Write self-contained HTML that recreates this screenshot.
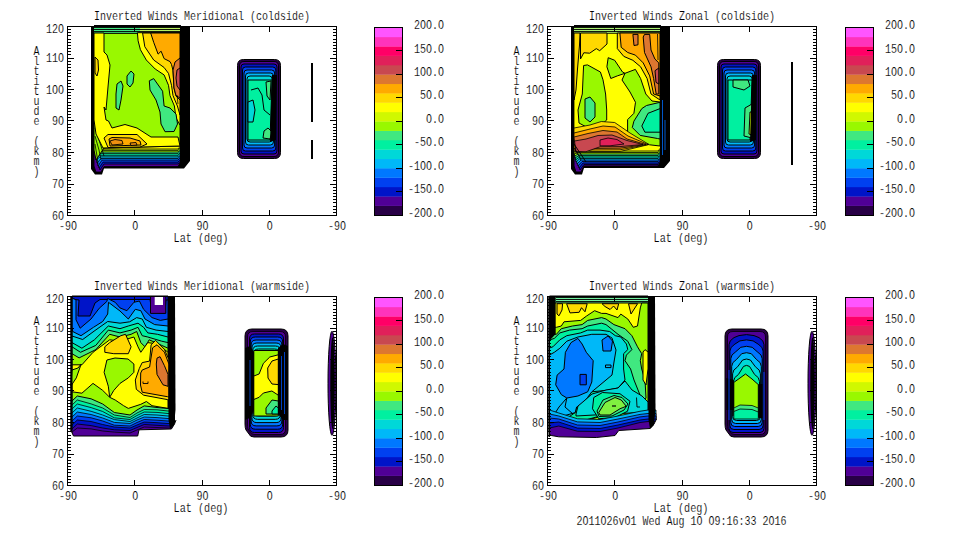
<!DOCTYPE html><html><head><meta charset="utf-8"><style>html,body{margin:0;padding:0;background:#fff;width:960px;height:540px;overflow:hidden}svg{display:block}text{font-family:"Liberation Mono",monospace;fill:#000;stroke:#fff;stroke-width:0.15px}</style></head><body>
<svg width="960" height="540" viewBox="0 0 960 540">
<rect width="960" height="540" fill="#fff"/>
<path d="M91,26 190,26 190,161 184,168.5 104,168.5 102,174.5 95,174.5 91,169Z" fill="#000" stroke="none"/>
<path d="M94,26 181,26 181,161 178,166.5 104,166.5 101,172 96,172 94,166Z" fill="#500096" stroke="#000" stroke-width="0.8"/>
<path d="M94,26 180.5,26 180.5,161 178,164 104,164 100,170 94,150Z" fill="#0014C8" stroke="#000" stroke-width="0.8"/>
<path d="M94,26 180.5,26 180.5,159.1 178,162.1 103,162.1 99,168 94,148Z" fill="#0040F0" stroke="#000" stroke-width="0.8"/>
<path d="M94,26 180.5,26 180.5,157.1 178,160.1 102,160.1 98,166 94,146Z" fill="#0078FF" stroke="#000" stroke-width="0.8"/>
<path d="M94,26 180.5,26 180.5,155.5 178,158.5 101,158.5 97,163 94,143Z" fill="#00B8F8" stroke="#000" stroke-width="0.8"/>
<path d="M94,26 180.5,26 180.5,153.9 178,156.9 100,156.9 96,160 94,140Z" fill="#00D8D8" stroke="#000" stroke-width="0.8"/>
<path d="M94,26 180.5,26 180.5,152.3 178,155.3 99.5,155.3 95.5,157 94,137Z" fill="#00F0A0" stroke="#000" stroke-width="0.8"/>
<path d="M94,26 180.5,26 180.5,150.6 178,153.6 99,153.6 95,154 94,134Z" fill="#40E880" stroke="#000" stroke-width="0.8"/>
<path d="M94,26 180.5,26 180.5,149 178,152 98.5,152 94.5,151 94,131Z" fill="#99F800" stroke="#000" stroke-width="0.8"/>
<path d="M94,26 180.5,26 180.5,147.4 178,150.4 98,150.4 94,149 94,129Z" fill="#D0F800" stroke="#000" stroke-width="0.8"/>
<path d="M94,26 180.5,26 180.5,146 178,149 98,149 94,148 94,128Z" fill="#FFFF00" stroke="#000" stroke-width="0.8"/>
<path d="M94,33 180,33 180,146 104,148 96,160 94,150Z" fill="#99F800" stroke="#000" stroke-width="1"/>
<path d="M95,128L101,146L104,156M95,136L99,150L101,160M95,144L97,156L98,164" stroke="#000" stroke-width="0.8" fill="none"/>
<path d="M94,26.5 140,26.5 140,33 94,33Z" fill="#40E880" stroke="none"/>
<path d="M140,26.5 180,26.5 180,33 140,33Z" fill="#B8F060" stroke="none"/>
<path d="M94,27.5H180M94,29.5H180M94,31.5H180M94,33.3H180" stroke="#000" stroke-width="0.9" fill="none"/>
<path d="M94,33 104,33 104,52 107,55 110,65 108,87 106,110 104,107 106,120 108.5,121 112,128 125,124.5 137,128 151,137 178,137 180,146 103,148 96,134 94,120Z" fill="#FFFF00" stroke="#000" stroke-width="1"/>
<path d="M95,57 98,60 98.5,70 97,76 95,73Z" fill="#FFD800" stroke="#000" stroke-width="1"/>
<path d="M104,138 108,134.5 137,134.5 147,144 140,147 108,147.5Z" fill="#FFD800" stroke="#000" stroke-width="1"/>
<path d="M109,139 112,137.5 130,138 140,141 141,145 110,146Z" fill="#FFAA00" stroke="#000" stroke-width="1"/>
<path d="M110,141 115,139.5 122,140.5 123,144 112,145Z" fill="#F09010" stroke="#000" stroke-width="0.9"/>
<path d="M130,143 136,142.5 137,145 131,145.5Z" fill="#F09010" stroke="#000" stroke-width="0.9"/>
<path d="M137.4,32.7 180,32.7 180,125 176,118 174.4,106 170,95.6 168.5,85.3 164.1,74.9 155.2,69 146.3,60 140.4,49.7 138.1,40.8Z" fill="#FFFF00" stroke="#000" stroke-width="1"/>
<path d="M142.6,33 180,33 180,115 177.4,106 173,95.6 171.5,85.3 168.5,73.4 164.1,67.5 153.7,60 144.8,46.7Z" fill="#FFD800" stroke="#000" stroke-width="1"/>
<path d="M150.7,33 180,33 180,100 176,96 174,88 173,70.4 171.5,64.5 170,61.6 164.1,58.6 161.1,51.2 158.1,54.1 153.7,42.3Z" fill="#FFAA00" stroke="#000" stroke-width="1"/>
<path d="M180,58 180,98 176,95.6 174,88 173,70 175,62Z" fill="#DD7730" stroke="#000" stroke-width="1"/>
<path d="M180,68 180,90 177,86 176,78 177,70Z" fill="#C84850" stroke="#000" stroke-width="1"/>
<path d="M177,95 178,104" fill="none" stroke="#000" stroke-width="0.8"/>
<path d="M127,76 131,71 134,74 133,83 130,87 127,84Z" fill="#40E880" stroke="#000" stroke-width="1"/>
<path d="M117,84 121,81 123,86 121,100 119,110 116,108 116,94Z" fill="#40E880" stroke="#000" stroke-width="1"/>
<path d="M149.3,80.8 153.7,78.6 162.6,91.2 164.1,106 170,108 176,114 177.5,124 174,131.5 165,131.7 161,124 160,112 156,100 150,90Z" fill="#40E880" stroke="#000" stroke-width="1"/>
<path d="M180,26 190,26 190,160 183,168 180,165Z" fill="#000" stroke="none"/>
<path d="M243.5,59.5 H274.5 Q280.5,59.5 280.5,65.5 V152.5 Q280.5,158.5 274.5,158.5 H243.5 Q237.5,158.5 237.5,152.5 V65.5 Q237.5,59.5 243.5,59.5Z" fill="#280046" stroke="#000" stroke-width="1"/>
<path d="M244,61.5 H274 Q278.5,61.5 278.5,66 V152 Q278.5,156.5 274,156.5 H244 Q239.5,156.5 239.5,152 V66 Q239.5,61.5 244,61.5Z" fill="#500096" stroke="#000" stroke-width="1"/>
<path d="M244.0,64 H274.0 Q277.0,64 277.0,67 V151 Q277.0,154 274.0,154 H244.0 Q241.0,154 241.0,151 V67 Q241.0,64 244.0,64Z" fill="#0014C8" stroke="#000" stroke-width="1"/>
<path d="M245.5,67 H272.8 Q275.8,67 275.8,70 V148 Q275.8,151 272.8,151 H245.5 Q242.5,151 242.5,148 V70 Q242.5,67 245.5,67Z" fill="#0040F0" stroke="#000" stroke-width="1"/>
<path d="M247.0,70 H271.6 Q274.6,70 274.6,73 V145 Q274.6,148 271.6,148 H247.0 Q244.0,148 244.0,145 V73 Q244.0,70 247.0,70Z" fill="#0078FF" stroke="#000" stroke-width="1"/>
<path d="M248.5,73 H270.4 Q273.4,73 273.4,76 V142 Q273.4,145 270.4,145 H248.5 Q245.5,145 245.5,142 V76 Q245.5,73 248.5,73Z" fill="#00B8F8" stroke="#000" stroke-width="1"/>
<path d="M250.0,76 H269.2 Q272.2,76 272.2,79 V139 Q272.2,142 269.2,142 H250.0 Q247.0,142 247.0,139 V79 Q247.0,76 250.0,76Z" fill="#00D8D8" stroke="#000" stroke-width="1"/>
<path d="M248,80 272,80 270,140 248,140Z" fill="#00F0A0" stroke="#000" stroke-width="1"/>
<path d="M266,82 271,81 270,100 267,96Z" fill="#40E880" stroke="#000" stroke-width="1"/>
<path d="M264,131 268,128 272,132 270,139 263,138Z" fill="#40E880" stroke="#000" stroke-width="1"/>
<path d="M248,102 253,100 255,110 253,122 248,122Z" fill="#00D8D8" stroke="#000" stroke-width="1"/>
<path d="M251,90 258,88 262,95 264,110 270,115" fill="none" stroke="#000" stroke-width="1"/>
<path d="M272,75 277,75 276,140 270,142Z" fill="#000" stroke="none"/>
<path d="M312,63V122M312,140V159" stroke="#000" stroke-width="2" fill="none"/><path d="M571,26 670,26 670,161 664,168 584,168 582,174.5 575,174.5 571,169Z" fill="#000" stroke="none"/>
<path d="M574,26 661,26 661,161 658,166 584,166 581,172 576,172 574,166Z" fill="#500096" stroke="#000" stroke-width="1"/>
<path d="M574,26 660.5,26 660.5,161.5 658,164.5 584,164.5 580,170 574,150Z" fill="#0014C8" stroke="#000" stroke-width="0.8"/>
<path d="M574,26 660.5,26 660.5,160 658,163 583,163 579,168 574,148Z" fill="#0040F0" stroke="#000" stroke-width="0.8"/>
<path d="M574,26 660.5,26 660.5,158.5 658,161.5 582,161.5 578,166 574,146Z" fill="#0078FF" stroke="#000" stroke-width="0.8"/>
<path d="M574,26 660.5,26 660.5,157 658,160 581,160 577,164 574,144Z" fill="#00B8F8" stroke="#000" stroke-width="0.8"/>
<path d="M574,26 660.5,26 660.5,155.5 658,158.5 580,158.5 576,162 574,142Z" fill="#00D8D8" stroke="#000" stroke-width="0.8"/>
<path d="M574,26 660.5,26 660.5,154 658,157 579.5,157 575.5,160 574,140Z" fill="#00F0A0" stroke="#000" stroke-width="0.8"/>
<path d="M574,26 660.5,26 660.5,152.5 658,155.5 579,155.5 575,158 574,138Z" fill="#40E880" stroke="#000" stroke-width="0.8"/>
<path d="M574,26 660.5,26 660.5,151 658,154 578.5,154 574.5,156 574,136Z" fill="#99F800" stroke="#000" stroke-width="0.8"/>
<path d="M574,26 660.5,26 660.5,149.5 658,152.5 578,152.5 574,154 574,134Z" fill="#D0F800" stroke="#000" stroke-width="0.8"/>
<path d="M574,26 660.5,26 660.5,148 658,151 578,151 574,152 574,132Z" fill="#FFFF00" stroke="#000" stroke-width="0.8"/>
<path d="M574,26.5 660,26.5 660,33 574,33Z" fill="#A8F070" stroke="none"/>
<path d="M574,27.5H660M574,29.5H660M574,31.5H660M574,33.3H660" stroke="#000" stroke-width="0.9" fill="none"/>
<path d="M574,33 580,33 579.5,45 577.5,69 576,90 574,100Z" fill="#FFD800" stroke="#000" stroke-width="1"/>
<path d="M580.5,33 607,33 607,44 599.7,50.7 596.3,48.6 589.7,53.2 583.8,52.75 580.5,59Z" fill="#FFD800" stroke="#000" stroke-width="1"/>
<path d="M617.3,33 660,33 660,100 651,94 647.1,78.5 640.6,66.8 632.9,60.3 623.8,56.4 617.3,48.6Z" fill="#FFD800" stroke="#000" stroke-width="1"/>
<path d="M619.9,33 660,33 660,96 653.6,94 649.7,75.9 643.2,62.9 635.4,55.1 627.7,52.5 621.2,47.3Z" fill="#FFAA00" stroke="#000" stroke-width="1"/>
<path d="M644.5,34.4 649.7,34.4 651,50 654.9,59 658.8,62.9 658.8,94 656.2,94 653.6,78.5 651,66.8 644.5,52.5 643.2,37Z" fill="#DD7730" stroke="#000" stroke-width="1"/>
<path d="M632.9,34.4 638,34.4 638,44.8 634,45.5Z" fill="#DD7730" stroke="#000" stroke-width="1"/>
<path d="M655,70.7 658.8,68 658.8,84 656,82.4Z" fill="#C84850" stroke="#000" stroke-width="1"/>
<path d="M657.5,34 658,60" fill="none" stroke="#000" stroke-width="0.8"/>
<path d="M583.6,65.5 587.5,64.9 600.4,72 603,79.8 605.6,94 606.7,110 606.7,120 600,126 590,129 579,123 578,110 582.3,94Z" fill="#99F800" stroke="#000" stroke-width="1"/>
<path d="M585,99 590,97 595,103 595,117 590,122 585,118Z" fill="#40E880" stroke="#000" stroke-width="1"/>
<path d="M608.2,57.7 614.7,60.3 622.5,72 625,73.3 617.3,75.9 610.8,78.5 606.9,66.8Z" fill="#99F800" stroke="#000" stroke-width="1"/>
<path d="M625,73.3 635.4,69.4 640.6,78.5 645.8,94 652,101 660,102 660,146 649.6,144.8 637,140.1 627.6,132.2 627.6,119.6 633.9,113.3 635.5,102.3 630,92 622,80Z" fill="#99F800" stroke="#000" stroke-width="1"/>
<path d="M660,102.3 646.5,105.5 641.8,108.6 633.9,121.2 632.3,127.5 640.2,135.4 657.5,138.5 660,139Z" fill="#40E880" stroke="#000" stroke-width="1"/>
<path d="M660,108.6 648,113.3 641.8,126 644.9,132.2 660,132.2Z" fill="#00F0A0" stroke="#000" stroke-width="1"/>
<path d="M574,128 590,125 601.3,121.5 614.7,122.5 630,133 649,144.5 649,144.5 620,151.5 590,151.5 574,147Z" fill="#FFD800" stroke="#000" stroke-width="0.8"/>
<path d="M574,133 590,129 603,126 615,127 628,136 648,144.5 648,144.5 620,149.8 590,150 574,151Z" fill="#FFAA00" stroke="#000" stroke-width="0.8"/>
<path d="M574,137 588,133.5 603,130.5 617,132 627,139 646,144.5 646,144.5 620,148.2 590,148.5 576,153Z" fill="#DD7730" stroke="#000" stroke-width="0.8"/>
<path d="M574.5,141 586,139 598,135.5 612,135 627,140.5 643,144.5 643,144.5 620,146.6 600,146.8 586,151.7 576,151.5Z" fill="#C84850" stroke="#000" stroke-width="0.8"/>
<path d="M600,140 608,138 617,139.5 624,144 624,144 610,145.8 600,145.8Z" fill="#E0205A" stroke="#000" stroke-width="0.8"/>
<path d="M574,144 578,150 582,156 586,162" fill="none" stroke="#000" stroke-width="1"/>
<path d="M574,148 578,154 581,160" fill="none" stroke="#000" stroke-width="1"/>
<path d="M660,26 670,26 670,160 663,168 660,165Z" fill="#000" stroke="none"/>
<path d="M662.5,100V155M665,120V150" stroke="#0060E0" stroke-width="0.9" fill="none"/>
<path d="M723.5,59.5 H754.5 Q760.5,59.5 760.5,65.5 V152.5 Q760.5,158.5 754.5,158.5 H723.5 Q717.5,158.5 717.5,152.5 V65.5 Q717.5,59.5 723.5,59.5Z" fill="#280046" stroke="#000" stroke-width="1"/>
<path d="M724,61.5 H754 Q758.5,61.5 758.5,66 V152 Q758.5,156.5 754,156.5 H724 Q719.5,156.5 719.5,152 V66 Q719.5,61.5 724,61.5Z" fill="#500096" stroke="#000" stroke-width="1"/>
<path d="M724.0,64 H754.0 Q757.0,64 757.0,67 V151 Q757.0,154 754.0,154 H724.0 Q721.0,154 721.0,151 V67 Q721.0,64 724.0,64Z" fill="#0014C8" stroke="#000" stroke-width="1"/>
<path d="M725.5,67 H752.8 Q755.8,67 755.8,70 V148 Q755.8,151 752.8,151 H725.5 Q722.5,151 722.5,148 V70 Q722.5,67 725.5,67Z" fill="#0040F0" stroke="#000" stroke-width="1"/>
<path d="M727.0,70 H751.6 Q754.6,70 754.6,73 V145 Q754.6,148 751.6,148 H727.0 Q724.0,148 724.0,145 V73 Q724.0,70 727.0,70Z" fill="#0078FF" stroke="#000" stroke-width="1"/>
<path d="M728.5,73 H750.4 Q753.4,73 753.4,76 V142 Q753.4,145 750.4,145 H728.5 Q725.5,145 725.5,142 V76 Q725.5,73 728.5,73Z" fill="#00B8F8" stroke="#000" stroke-width="1"/>
<path d="M730.0,76 H749.2 Q752.2,76 752.2,79 V139 Q752.2,142 749.2,142 H730.0 Q727.0,142 727.0,139 V79 Q727.0,76 730.0,76Z" fill="#00D8D8" stroke="#000" stroke-width="1"/>
<path d="M728,80 752,80 750,140 728,140Z" fill="#00F0A0" stroke="#000" stroke-width="1"/>
<path d="M733,80 748,80 750,86 744,90 733,87Z" fill="#40E880" stroke="#000" stroke-width="1"/>
<path d="M745,108 752,104 752,138 744,136Z" fill="#40E880" stroke="#000" stroke-width="1"/>
<path d="M750,112 752,112 752,135 749,134Z" fill="#D0F800" stroke="#000" stroke-width="1"/>
<path d="M752,75 757,75 756,140 750,142Z" fill="#000" stroke="none"/>
<path d="M792,62V165" stroke="#000" stroke-width="2" fill="none"/><path d="M70.5,296 175,296 175,428 171,432 138,432 135,437 72,437 70.5,432Z" fill="#000" stroke="none"/>
<path d="M72,296 168,296 170,420 168,429 136,429.5 133,435.5 74,435.5 72,430Z" fill="#500096" stroke="#000" stroke-width="1"/>
<path d="M72,296.5 168,296.5 168,420 72,420Z" fill="#0014C8" stroke="#000" stroke-width="1"/>
<path d="M72,299 79,300 78,316 90,316 95,303 100,299.5 150,299.5 152,312 165,313.5 166,300 168,300 168,420 72,420Z" fill="#0040F0" stroke="#000" stroke-width="1"/>
<path d="M72,298 76,299.8 76,319.8 80.2,328.2 91,319 99.3,308.2 106.8,301.5 107.7,298.5 115.2,302.3 120,307.9 126.9,310.7 133.9,302.3 139.4,301 143.6,309.3 152,317.6 160.3,320.4 168,319 168,420 72,420Z" fill="#0078FF" stroke="#000" stroke-width="1"/>
<path d="M72,328 72.7,331.5 81,335.7 93.5,327.3 102.7,321.5 107.7,314 108.5,302.3 120,311 128.3,319 135.3,309.3 140.8,310.7 145,319 154.7,324.6 168,326 168,420 72,420Z" fill="#00B8F8" stroke="#000" stroke-width="1"/>
<path d="M72,336 82.7,339.5 95,330.5 107.7,321.5 120,323.2 129.7,321.8 136.7,317.6 142.2,319 146.4,327.3 156.1,330.1 168,331.5 168,420 72,420Z" fill="#00D8D8" stroke="#000" stroke-width="1"/>
<path d="M72,342.6 81.9,348.2 94.4,339.8 108.3,326 120,328.7 128.3,326 138,323.2 143.6,327.3 147.8,332.9 157.5,334.3 168,337 168,420 72,420Z" fill="#00F0A0" stroke="#000" stroke-width="1"/>
<path d="M72,346.8 80.5,352.3 95.8,345.4 108.3,330.1 120,332.9 131.1,330.1 138,327.3 142.2,335.7 147.8,337 161.7,341.2 168,342.6 168,420 72,420Z" fill="#40E880" stroke="#000" stroke-width="1"/>
<path d="M72,353.7 79.1,357.9 95.8,349.6 109.7,334.3 120,337 131.1,334.3 136.7,331.5 140.8,342.6 145,346.8 149.2,339.8 161.7,345.4 168,348.2 168,420 72,420Z" fill="#99F800" stroke="#000" stroke-width="1"/>
<path d="M72,364.8 81.9,364.8 93,352.3 109.7,339.8 120,341.2 133.9,337 138,346.8 140.8,352.3 147.8,342.6 157.5,344 168,352.3 168,420 72,420Z" fill="#FFFF00" stroke="#000" stroke-width="1"/>
<path d="M72,370 78,368 81.2,364 76.3,377.9 70.8,386.2Z" fill="#99F800" stroke="#000" stroke-width="1"/>
<path d="M104.8,346.8 109.7,342.6 120.8,335.7 125.5,334.3 131.1,346.8 128.3,353.7 113.8,353.7 104.8,352.3Z" fill="#FFD800" stroke="#000" stroke-width="1"/>
<path d="M106.9,360 115,358 128,359 133.9,364 133.9,372.3 128.3,377.9 120,383.4 113.8,390.4 109.7,397.3 108.3,386.2 104.1,372.3Z" fill="#99F800" stroke="#000" stroke-width="1"/>
<path d="M139.3,368.5 142.2,362.6 149.6,361.1 151.1,344.8 155.6,340.4 164.4,349.3 168.9,359.6 168.9,400 167.4,399.6 143.7,395.2 136.3,389.3 135.3,380Z" fill="#FFD800" stroke="#000" stroke-width="1"/>
<path d="M140.7,373 142.2,370 149.6,367 152.6,347.8 157,344.8 164.4,352.2 168.9,364 168.9,397 167.4,396.7 142.2,392.2 140.5,385Z" fill="#FFAA00" stroke="#000" stroke-width="1"/>
<path d="M157,358.1 160,356.7 164.4,365.6 168,374.4 168,386.3 163,384.8 157,374.4 156.3,364Z" fill="#DD7730" stroke="#000" stroke-width="1"/>
<path d="M143,381.5 143,383.5 148,383.5 148,381.5" fill="none" stroke="#000" stroke-width="0.9"/>
<path d="M72,391.8 81.9,393.2 93,383.4 102.7,390.4 109.7,397.3 115.2,400 123.6,405.7 128.3,408.4 140.8,404.3 146.4,401.5 152,405.7 168,408.4 173,408.4 173,445 72,445Z" fill="#99F800" stroke="#000" stroke-width="1"/>
<path d="M72,401 77.3,396 91.1,398.8 102.7,404 114.3,412.5 130,415 137,410 144.2,405.9 157,407.5 168,408.5 173,408.5 173,445 72,445Z" fill="#40E880" stroke="#000" stroke-width="1"/>
<path d="M72,405 77.3,400 91.1,403.9 102.7,408 114.3,415 130,417.5 137,413 144.2,409.5 157,409.8 168,411 173,411 173,445 72,445Z" fill="#00F0A0" stroke="#000" stroke-width="0.8"/>
<path d="M72,409 77.3,404 91.1,407.6 102.7,411.5 114.3,417.8 130,419.5 137,415.5 144.2,412 157,412.4 168,413.5 173,413.5 173,445 72,445Z" fill="#00D8D8" stroke="#000" stroke-width="0.8"/>
<path d="M72,413 77.3,408 91.1,411.3 102.7,415 114.3,419.6 130,421.5 137,418 144.2,414.5 157,415 168,416 173,416 173,445 72,445Z" fill="#00B8F8" stroke="#000" stroke-width="0.8"/>
<path d="M72,417 77.3,412 91.1,414.5 102.7,418 114.3,422.4 130,423.5 137,420 144.2,417 157,417.6 168,418.5 173,418.5 173,445 72,445Z" fill="#0078FF" stroke="#000" stroke-width="0.8"/>
<path d="M72,421 77.3,416 91.1,417.8 102.7,421 114.3,425.2 130,426 137,422.5 144.2,419.5 157,420.2 168,421 173,421 173,445 72,445Z" fill="#0040F0" stroke="#000" stroke-width="0.8"/>
<path d="M72,425 77.3,420 91.1,421.5 102.7,424.5 114.3,427 130,428 137,425 144.2,422 157,422.7 168,423.5 173,423.5 173,445 72,445Z" fill="#0014C8" stroke="#000" stroke-width="0.8"/>
<path d="M72,429 77.3,424 91.1,425.6 102.7,428 114.3,429.8 130,430.5 137,427.5 144.2,424.5 157,425.3 168,426 173,426 173,445 72,445Z" fill="#3A00A8" stroke="#000" stroke-width="0.8"/>
<path d="M72,432 77.3,428 91.1,428.9 102.7,431 114.3,432.1 130,433 137,430 144.2,427 157,427.5 168,428 173,428 173,445 72,445Z" fill="#500096" stroke="#000" stroke-width="0.8"/>
<path d="M69,428 70.5,430 71.7,432 73.5,436 137.7,436 139,429.8 171.4,429 174.5,424 176,420 180,420 180,446 68,446Z" fill="#fff" stroke="none"/>
<path d="M69,428 70.5,430 71.7,432 73.5,436 137.7,436 139,429.8 171.4,429 174.5,424 176,420" fill="none" stroke="#000" stroke-width="1"/>
<path d="M150.5,296.5 165.8,296.5 165.8,313.4 150.5,313.4Z" fill="#500096" stroke="#000" stroke-width="1"/>
<path d="M154.7,296.5 163,296.5 163,305 154.7,305Z" fill="#fff" stroke="none"/>
<path d="M168.5,296 175,296 175.5,410 174,425 170,429 168.5,420Z" fill="#000" stroke="none"/>
<path d="M70.5,296 72.5,296 72.5,430 70.5,428Z" fill="#000" stroke="none"/>
<path d="M252,329 H281 Q288,329 288,336 V430 Q288,437 281,437 H254 Q250,437 249,434 L246,430 Q245,428 245,424 V336 Q245,329 252,329Z" fill="#280046" stroke="#000" stroke-width="1"/>
<path d="M253,331.5 H280 Q285.5,331.5 285.5,337 V429 Q285.5,434.5 280,434.5 H255 Q251.5,434.5 250.5,432 L248,429 Q247.5,427 247.5,423 V337 Q247.5,331.5 253,331.5Z" fill="#500096" stroke="#000" stroke-width="0.8"/>
<path d="M254.5,334 H278.5 Q283.5,334 283.5,339 V427.5 Q283.5,432.5 278.5,432.5 H254.5 Q249.5,432.5 249.5,427.5 V339 Q249.5,334 254.5,334Z" fill="#0014C8" stroke="#000" stroke-width="1"/>
<path d="M255.3,337 H277.7 Q282.7,337 282.7,342 V424.2 Q282.7,429.2 277.7,429.2 H255.3 Q250.3,429.2 250.3,424.2 V342 Q250.3,337 255.3,337Z" fill="#0040F0" stroke="#000" stroke-width="1"/>
<path d="M256.1,340 H276.9 Q281.9,340 281.9,345 V420.9 Q281.9,425.9 276.9,425.9 H256.1 Q251.1,425.9 251.1,420.9 V345 Q251.1,340 256.1,340Z" fill="#0078FF" stroke="#000" stroke-width="1"/>
<path d="M256.9,343 H276.1 Q281.1,343 281.1,348 V417.6 Q281.1,422.6 276.1,422.6 H256.9 Q251.9,422.6 251.9,417.6 V348 Q251.9,343 256.9,343Z" fill="#00B8F8" stroke="#000" stroke-width="1"/>
<path d="M257.7,346 H275.3 Q280.3,346 280.3,351 V414.3 Q280.3,419.3 275.3,419.3 H257.7 Q252.7,419.3 252.7,414.3 V351 Q252.7,346 257.7,346Z" fill="#00D8D8" stroke="#000" stroke-width="1"/>
<path d="M258.5,349 H274.5 Q279.5,349 279.5,354 V411.0 Q279.5,416.0 274.5,416.0 H258.5 Q253.5,416.0 253.5,411.0 V354 Q253.5,349 258.5,349Z" fill="#00F0A0" stroke="#000" stroke-width="1"/>
<path d="M253.8,350.5 278.3,350.5 278.3,416 253.8,416Z" fill="#99F800" stroke="#000" stroke-width="1"/>
<path d="M253.8,376 259.1,374 263.4,363.3 269.8,357 278.3,354.8 278.3,395.2 271.9,391 263.4,393 259.1,397.3 253.8,399.5Z" fill="#FFFF00" stroke="#000" stroke-width="1"/>
<path d="M278.3,359 272,361 267.7,368 268,378 272,384 278.3,384.6Z" fill="#FFD800" stroke="#000" stroke-width="1"/>
<path d="M266,408 272,400 278.3,401 278.3,414 266,414Z" fill="#40E880" stroke="#000" stroke-width="1"/>
<path d="M272,411 276,406 278.3,408 278.3,414 272,414Z" fill="#00F0A0" stroke="#000" stroke-width="1"/>
<path d="M245,348 250,346 253.8,352 253.8,410 250,418 245,420Z" fill="#000" stroke="none"/>
<path d="M278,348 283,344 288,346 288,420 283,420 278,414Z" fill="#000" stroke="none"/>
<path d="M250,360V406M281.5,356V410M284.5,352V414" stroke="#0050F0" stroke-width="0.8" fill="none"/>
<ellipse cx="332" cy="383.3" rx="4" ry="52" fill="#500096" stroke="#000"/>
<ellipse cx="332.5" cy="383.3" rx="2.2" ry="46" fill="#000"/><path d="M548.5,296 655,296 655,428 651,432 618,432 615,437 552,437 548.5,432Z" fill="#000" stroke="none"/>
<path d="M549.5,296 648,296 650,420 648,429 618,429.5 614,435.5 552,435.5 549.5,430Z" fill="#500096" stroke="#000" stroke-width="1"/>
<path d="M549.5,296.5 648,296.5 648,303 549.5,303Z" fill="#70F0A0" stroke="none"/>
<path d="M556,297.5H648M556,299.5H648M556,301.5H648M556,303.3H641" stroke="#000" stroke-width="0.9" fill="none"/>
<path d="M549.5,303 648,303 648,420 549.5,420Z" fill="#FFFF00" stroke="#000" stroke-width="1"/>
<path d="M557,303.7 562.6,303.7 562,310 559,315.8 557,314Z" fill="#FFD800" stroke="#000" stroke-width="1"/>
<path d="M566.6,303.7 587.2,303.7 585,311.8 581.5,307.7 579.2,312.3 570,312.9Z" fill="#FFD800" stroke="#000" stroke-width="1"/>
<path d="M602,303.7 618.7,303.7 617,310 613.6,306 610.1,309.5 605,306.5Z" fill="#FFD800" stroke="#000" stroke-width="1"/>
<path d="M628.5,303.7 637.6,303.7 631,314Z" fill="#FFD800" stroke="#000" stroke-width="1"/>
<path d="M549.5,327.3 556.4,327.3 561.3,326 564,321.8 580.7,320.4 586.3,316.2 594.6,310.7 601.6,313.4 606,313.4 618,317.6 620.8,314.1 627.8,319 633.3,327.3 637.5,326 640.3,307.9 641.7,303 648,303 648,430 549.5,430Z" fill="#99F800" stroke="#000" stroke-width="1"/>
<path d="M549.5,334.3 556.4,334.3 561.3,328.7 572.4,326 582.1,324.6 587.7,320.4 601.6,317.6 606,319 613.9,324.6 625,328.7 631.9,335.7 637.5,346.8 641.7,353.7 640.3,360.7 641.7,369 645,380 646,398 640,406 549.5,430Z" fill="#40E880" stroke="#000" stroke-width="1"/>
<path d="M549.5,340 554.3,338.4 559.9,332.9 569.6,330.1 582.1,328.7 587.7,326 601.6,323.2 606,324.6 611.1,328.7 618,334.3 627.8,341.2 631.9,349.6 626.4,355.1 625,360.7 630.6,369 634,380 640,395 636,406 549.5,430Z" fill="#00F0A0" stroke="#000" stroke-width="1"/>
<path d="M549.5,348 552.9,346.8 559.9,339.8 566.8,335.7 580.7,332.9 587.7,330.1 600,330.1 609.7,331.5 615.3,335.7 620.8,337 626.4,344 627.8,349.6 623.6,353.7 623.6,369 625,380 618,388 606,390.4 591.8,391.8 587.7,397.3 583.5,402.9 576.6,407 575.2,412.6 549.5,430Z" fill="#00D8D8" stroke="#000" stroke-width="1"/>
<path d="M549.5,355 554.3,352.3 559.9,348.2 566.8,341.2 577.9,337 591.8,334.3 606,334.3 612,338 616,350 614,362 612,375 600,385 591.8,391.8 587.7,397.3 583.5,402.9 576.6,407 575.2,412.6 549.5,420Z" fill="#00B8F8" stroke="#000" stroke-width="1"/>
<path d="M564,369 565.4,352.3 571,342.6 577.9,338.4 582.1,344 586.3,352.3 593.2,360.7 591.8,382 587.7,391.8 577.9,396 566.8,398 561.3,394.6 555.7,384.8 557.1,375.1Z" fill="#0078FF" stroke="#000" stroke-width="1"/>
<path d="M580,374.4 586.3,374.4 586.3,384.8 580,384.8Z" fill="#0040F0" stroke="#000" stroke-width="1"/>
<path d="M602,340 608,336 612.5,341 611,351 603,351Z" fill="#0078FF" stroke="#000" stroke-width="1"/>
<path d="M605.5,365 611,365 611,367.6 605.5,367.6Z" fill="#00B8F8" stroke="#000" stroke-width="1"/>
<path d="M566.8,398 559,407 552,418" fill="none" stroke="#000" stroke-width="1"/>
<path d="M566.8,398 565,407 573,414" fill="none" stroke="#000" stroke-width="1"/>
<path d="M576,414 578,406 584,401 592,394 606,390 618,388 625,381 632,390 642,396 648,402 648,412 576,416Z" fill="#00D8D8" stroke="#000" stroke-width="1"/>
<path d="M593.75,397.5 602.5,392.5 620,393.75 630,401.25 627.5,411.25 615,417.5 598.75,418.75 592.5,408.75Z" fill="#00F0A0" stroke="#000" stroke-width="1"/>
<path d="M597,411 603,400 614,395.5 622,397.5 628,404 624,410 612,416 599,416.5Z" fill="#40E880" stroke="#000" stroke-width="1"/>
<path d="M598.75,412.5 605,402.5 615,397.5 621.25,400 626.25,406.25 620,408.75 610,415 600,415Z" fill="#80F040" stroke="#000" stroke-width="1"/>
<path d="M612,406 616,406" fill="none" stroke="#000" stroke-width="1.2"/>
<path d="M636.5,397.5 637,407 640,407" fill="none" stroke="#000" stroke-width="0.9"/>
<path d="M643,352 645,349.6 648,352 648,369 646,385 643,380Z" fill="#FFFF00" stroke="#000" stroke-width="1"/>
<path d="M549.5,410 558.75,413 577.5,418.75 600,419.5 618,416 640,411.25 648,410 656,410 656,440 549.5,440Z" fill="#00B8F8" stroke="#000" stroke-width="0.8"/>
<path d="M549.5,414 558.75,416 577.5,421.9 600,422.5 618,419 640,414.4 648,413.5 656,413.5 656,440 549.5,440Z" fill="#0078FF" stroke="#000" stroke-width="0.8"/>
<path d="M549.5,418 558.75,419 577.5,425 600,425.5 618,422 640,416.9 648,416 656,416 656,440 549.5,440Z" fill="#0040F0" stroke="#000" stroke-width="0.8"/>
<path d="M549.5,423 558.75,422 577.5,428.1 600,428.5 618,425 640,420 648,419 656,419 656,440 549.5,440Z" fill="#0014C8" stroke="#000" stroke-width="0.8"/>
<path d="M549.5,428 558.75,426 577.5,431.25 600,431.5 618,428 640,422.5 648,421.5 656,421.5 656,440 549.5,440Z" fill="#500096" stroke="#000" stroke-width="0.8"/>
<path d="M549,433 551.25,435.5 558.75,436.8 596.25,437.5 615,435.5 618.75,430.5 650,428.5 654,424 656,420 660,420 660,445 545,445 545,433Z" fill="#fff" stroke="none"/>
<path d="M549,433 551.25,435.5 558.75,436.8 596.25,437.5 615,435.5 618.75,430.5 650,428.5 654,424 656,420" fill="none" stroke="#000" stroke-width="1"/>
<path d="M648.5,296 655,296 655.5,410 654,425 650,429 648.5,420Z" fill="#000" stroke="none"/>
<path d="M548.5,296 555.7,296 555.7,334 550,340 548.5,340Z" fill="#000" stroke="none"/>
<path d="M548.5,340 550,340 550,437 548.5,437Z" fill="#000" stroke="none"/>
<path d="M732,329 H761 Q768,329 768,336 V430 Q768,437 761,437 H734 Q730,437 729,434 L726,430 Q725,428 725,424 V336 Q725,329 732,329Z" fill="#280046" stroke="#000" stroke-width="1"/>
<path d="M733,331.5 H760 Q765.5,331.5 765.5,337 V429 Q765.5,434.5 760,434.5 H735 Q731.5,434.5 730.5,432 L728,429 Q727.5,427 727.5,423 V337 Q727.5,331.5 733,331.5Z" fill="#500096" stroke="#000" stroke-width="0.8"/>
<path d="M729.0,428.5 V344.6 Q729.0,340.6 734.0,337.6 L739.0,335.6 Q746.5,333.6 754.0,335.6 L759.0,337.6 Q764.0,340.6 764.0,344.6 V428.5 Q764.0,432.5 760.0,432.5 H733.0 Q729.0,432.5 729.0,428.5Z" fill="#0014C8" stroke="#000" stroke-width="1"/>
<path d="M729.9,425.5 V351.09999999999997 Q729.9,347.09999999999997 734.9,344.09999999999997 L739.9,340.9 Q746.5,338.9 753.1,340.9 L758.1,344.09999999999997 Q763.1,347.09999999999997 763.1,351.09999999999997 V425.5 Q763.1,429.5 759.1,429.5 H733.9 Q729.9,429.5 729.9,425.5Z" fill="#0040F0" stroke="#000" stroke-width="1"/>
<path d="M730.8,422.5 V358.7 Q730.8,354.7 735.8,351.7 L740.8,347.3 Q746.5,345.3 752.2,347.3 L757.2,351.7 Q762.2,354.7 762.2,358.7 V422.5 Q762.2,426.5 758.2,426.5 H734.8 Q730.8,426.5 730.8,422.5Z" fill="#0078FF" stroke="#000" stroke-width="1"/>
<path d="M731.7,419.5 V366.3 Q731.7,362.3 736.7,359.3 L741.7,353.7 Q746.5,351.7 751.3,353.7 L756.3,359.3 Q761.3,362.3 761.3,366.3 V419.5 Q761.3,423.5 757.3,423.5 H735.7 Q731.7,423.5 731.7,419.5Z" fill="#00B8F8" stroke="#000" stroke-width="1"/>
<path d="M732.6,416.5 V373.8 Q732.6,369.8 737.6,366.8 L742.6,360 Q746.5,358 750.4,360 L755.4,366.8 Q760.4,369.8 760.4,373.8 V416.5 Q760.4,420.5 756.4,420.5 H736.6 Q732.6,420.5 732.6,416.5Z" fill="#00D8D8" stroke="#000" stroke-width="1"/>
<path d="M733.5,413.5 V381.4 Q733.5,377.4 738.5,374.4 L743.5,366.4 Q746.5,364.4 749.5,366.4 L754.5,374.4 Q759.5,377.4 759.5,381.4 V413.5 Q759.5,417.5 755.5,417.5 H737.5 Q733.5,417.5 733.5,413.5Z" fill="#00F0A0" stroke="#000" stroke-width="1"/>
<path d="M733.8,382.4 740,378 745.5,374 752,379 758.3,384.6 758.3,412 733.8,412Z" fill="#99F800" stroke="#000" stroke-width="1"/>
<path d="M733.8,408 740,405 752,405.5 758.3,408 758.3,416 733.8,416Z" fill="#40E880" stroke="#000" stroke-width="0.8"/>
<path d="M733.8,411.5 740,409 752,409.5 758.3,412 758.3,419 733.8,419Z" fill="#00F0A0" stroke="#000" stroke-width="0.8"/>
<path d="M726.4,378 733.8,380 733.8,410 726.4,410Z" fill="#000" stroke="none"/>
<path d="M758.3,384 762.5,384 762.5,418 758.3,418Z" fill="#000" stroke="none"/>
<path d="M729,370V420M764,372V420" stroke="#0040F0" stroke-width="1" fill="none"/>
<ellipse cx="812" cy="383.3" rx="4" ry="52" fill="#500096" stroke="#000"/>
<ellipse cx="812.5" cy="383.3" rx="2.2" ry="46" fill="#000"/>
<g stroke="#000" stroke-width="1" fill="none">
<rect x="67.5" y="26.5" width="269" height="189" fill="none" stroke="#000" stroke-width="1"/>
<path d="M67 215.5h7M337 215.5h-7"/>
<path d="M67 212.5h4M337 212.5h-4"/>
<path d="M67 209.5h4M337 209.5h-4"/>
<path d="M67 206.5h4M337 206.5h-4"/>
<path d="M67 202.5h4M337 202.5h-4"/>
<path d="M67 199.5h4M337 199.5h-4"/>
<path d="M67 196.5h4M337 196.5h-4"/>
<path d="M67 193.5h4M337 193.5h-4"/>
<path d="M67 190.5h4M337 190.5h-4"/>
<path d="M67 187.5h4M337 187.5h-4"/>
<path d="M67 184.5h7M337 184.5h-7"/>
<path d="M67 180.5h4M337 180.5h-4"/>
<path d="M67 177.5h4M337 177.5h-4"/>
<path d="M67 174.5h4M337 174.5h-4"/>
<path d="M67 171.5h4M337 171.5h-4"/>
<path d="M67 168.5h4M337 168.5h-4"/>
<path d="M67 165.5h4M337 165.5h-4"/>
<path d="M67 161.5h4M337 161.5h-4"/>
<path d="M67 158.5h4M337 158.5h-4"/>
<path d="M67 155.5h4M337 155.5h-4"/>
<path d="M67 152.5h7M337 152.5h-7"/>
<path d="M67 149.5h4M337 149.5h-4"/>
<path d="M67 146.5h4M337 146.5h-4"/>
<path d="M67 143.5h4M337 143.5h-4"/>
<path d="M67 139.5h4M337 139.5h-4"/>
<path d="M67 136.5h4M337 136.5h-4"/>
<path d="M67 133.5h4M337 133.5h-4"/>
<path d="M67 130.5h4M337 130.5h-4"/>
<path d="M67 127.5h4M337 127.5h-4"/>
<path d="M67 124.5h4M337 124.5h-4"/>
<path d="M67 120.5h7M337 120.5h-7"/>
<path d="M67 117.5h4M337 117.5h-4"/>
<path d="M67 114.5h4M337 114.5h-4"/>
<path d="M67 111.5h4M337 111.5h-4"/>
<path d="M67 108.5h4M337 108.5h-4"/>
<path d="M67 105.5h4M337 105.5h-4"/>
<path d="M67 102.5h4M337 102.5h-4"/>
<path d="M67 98.5h4M337 98.5h-4"/>
<path d="M67 95.5h4M337 95.5h-4"/>
<path d="M67 92.5h4M337 92.5h-4"/>
<path d="M67 89.5h7M337 89.5h-7"/>
<path d="M67 86.5h4M337 86.5h-4"/>
<path d="M67 83.5h4M337 83.5h-4"/>
<path d="M67 80.5h4M337 80.5h-4"/>
<path d="M67 76.5h4M337 76.5h-4"/>
<path d="M67 73.5h4M337 73.5h-4"/>
<path d="M67 70.5h4M337 70.5h-4"/>
<path d="M67 67.5h4M337 67.5h-4"/>
<path d="M67 64.5h4M337 64.5h-4"/>
<path d="M67 61.5h4M337 61.5h-4"/>
<path d="M67 58.5h7M337 58.5h-7"/>
<path d="M67 54.5h4M337 54.5h-4"/>
<path d="M67 51.5h4M337 51.5h-4"/>
<path d="M67 48.5h4M337 48.5h-4"/>
<path d="M67 45.5h4M337 45.5h-4"/>
<path d="M67 42.5h4M337 42.5h-4"/>
<path d="M67 39.5h4M337 39.5h-4"/>
<path d="M67 35.5h4M337 35.5h-4"/>
<path d="M67 32.5h4M337 32.5h-4"/>
<path d="M67 29.5h4M337 29.5h-4"/>
<path d="M67 26.5h7M337 26.5h-7"/>
<path d="M67.5 215v-5M67.5 27v5"/>
<path d="M134.5 215v-5M134.5 27v5"/>
<path d="M202.5 215v-5M202.5 27v5"/>
<path d="M269.5 215v-5M269.5 27v5"/>
<path d="M336.5 215v-5M336.5 27v5"/>
<text x="52.00" y="219.50" textLength="12.00" lengthAdjust="spacingAndGlyphs" font-size="12.5">6O</text>
<text x="52.00" y="188.00" textLength="12.00" lengthAdjust="spacingAndGlyphs" font-size="12.5">7O</text>
<text x="52.00" y="156.50" textLength="12.00" lengthAdjust="spacingAndGlyphs" font-size="12.5">8O</text>
<text x="52.00" y="125.00" textLength="12.00" lengthAdjust="spacingAndGlyphs" font-size="12.5">9O</text>
<text x="46.00" y="93.50" textLength="18.00" lengthAdjust="spacingAndGlyphs" font-size="12.5">1OO</text>
<text x="46.00" y="62.00" textLength="18.00" lengthAdjust="spacingAndGlyphs" font-size="12.5">11O</text>
<text x="46.00" y="32.50" textLength="18.00" lengthAdjust="spacingAndGlyphs" font-size="12.5">12O</text>
<text x="59.00" y="229.50" textLength="18.00" lengthAdjust="spacingAndGlyphs" font-size="12.5">-9O</text>
<text x="132.25" y="229.50" textLength="6.00" lengthAdjust="spacingAndGlyphs" font-size="12.5">O</text>
<text x="196.50" y="229.50" textLength="12.00" lengthAdjust="spacingAndGlyphs" font-size="12.5">9O</text>
<text x="266.75" y="229.50" textLength="6.00" lengthAdjust="spacingAndGlyphs" font-size="12.5">O</text>
<text x="328.00" y="229.50" textLength="18.00" lengthAdjust="spacingAndGlyphs" font-size="12.5">-9O</text>
<text x="173.55" y="242.00" textLength="54.90" lengthAdjust="spacingAndGlyphs" font-size="12.5">Lat (deg)</text>
<text x="94.00" y="19.80" textLength="216.00" lengthAdjust="spacingAndGlyphs" font-size="12.5">Inverted Winds Meridional (coldside)</text>
<text x="33.60" y="54.60" textLength="6.00" lengthAdjust="spacingAndGlyphs" font-size="12.5">A</text>
<text x="33.60" y="64.60" textLength="6.00" lengthAdjust="spacingAndGlyphs" font-size="12.5">l</text>
<text x="33.60" y="74.60" textLength="6.00" lengthAdjust="spacingAndGlyphs" font-size="12.5">t</text>
<text x="33.60" y="84.60" textLength="6.00" lengthAdjust="spacingAndGlyphs" font-size="12.5">i</text>
<text x="33.60" y="94.60" textLength="6.00" lengthAdjust="spacingAndGlyphs" font-size="12.5">t</text>
<text x="33.60" y="104.60" textLength="6.00" lengthAdjust="spacingAndGlyphs" font-size="12.5">u</text>
<text x="33.60" y="114.60" textLength="6.00" lengthAdjust="spacingAndGlyphs" font-size="12.5">d</text>
<text x="33.60" y="124.60" textLength="6.00" lengthAdjust="spacingAndGlyphs" font-size="12.5">e</text>
<text x="33.60" y="144.60" textLength="6.00" lengthAdjust="spacingAndGlyphs" font-size="12.5">(</text>
<text x="33.60" y="154.60" textLength="6.00" lengthAdjust="spacingAndGlyphs" font-size="12.5">k</text>
<text x="33.60" y="164.60" textLength="6.00" lengthAdjust="spacingAndGlyphs" font-size="12.5">m</text>
<text x="33.60" y="174.60" textLength="6.00" lengthAdjust="spacingAndGlyphs" font-size="12.5">)</text>
<rect x="375" y="205.62" width="27.5" height="9.68" fill="#280046" stroke="none"/>
<rect x="375" y="196.25" width="27.5" height="9.68" fill="#500096" stroke="none"/>
<rect x="375" y="186.88" width="27.5" height="9.68" fill="#0014C8" stroke="none"/>
<rect x="375" y="177.50" width="27.5" height="9.68" fill="#0040F0" stroke="none"/>
<rect x="375" y="168.12" width="27.5" height="9.68" fill="#0078FF" stroke="none"/>
<rect x="375" y="158.75" width="27.5" height="9.68" fill="#00B8F8" stroke="none"/>
<rect x="375" y="149.38" width="27.5" height="9.68" fill="#00D8D8" stroke="none"/>
<rect x="375" y="140.00" width="27.5" height="9.68" fill="#00F0A0" stroke="none"/>
<rect x="375" y="130.62" width="27.5" height="9.68" fill="#40E880" stroke="none"/>
<rect x="375" y="121.25" width="27.5" height="9.68" fill="#99F800" stroke="none"/>
<rect x="375" y="111.88" width="27.5" height="9.68" fill="#D0F800" stroke="none"/>
<rect x="375" y="102.50" width="27.5" height="9.68" fill="#FFFF00" stroke="none"/>
<rect x="375" y="93.12" width="27.5" height="9.68" fill="#FFD800" stroke="none"/>
<rect x="375" y="83.75" width="27.5" height="9.68" fill="#FFAA00" stroke="none"/>
<rect x="375" y="74.38" width="27.5" height="9.68" fill="#DD7730" stroke="none"/>
<rect x="375" y="65.00" width="27.5" height="9.68" fill="#C84850" stroke="none"/>
<rect x="375" y="55.62" width="27.5" height="9.68" fill="#E0205A" stroke="none"/>
<rect x="375" y="46.25" width="27.5" height="9.68" fill="#FF0066" stroke="none"/>
<rect x="375" y="36.88" width="27.5" height="9.68" fill="#FF33BB" stroke="none"/>
<rect x="375" y="27.50" width="27.5" height="9.68" fill="#FF55FF" stroke="none"/>
<rect x="374.5" y="27.5" width="28" height="188" fill="none" stroke="#000"/>
<path d="M402 191.5h-6"/>
<path d="M402 168.5h-6"/>
<path d="M402 144.5h-6"/>
<path d="M402 121.5h-6"/>
<path d="M402 97.5h-6"/>
<path d="M402 74.5h-6"/>
<path d="M402 50.5h-6"/>
<text x="408.00" y="216.60" textLength="36.00" lengthAdjust="spacingAndGlyphs" font-size="12.5">-2OO.O</text>
<text x="408.00" y="193.16" textLength="36.00" lengthAdjust="spacingAndGlyphs" font-size="12.5">-15O.O</text>
<text x="408.00" y="169.72" textLength="36.00" lengthAdjust="spacingAndGlyphs" font-size="12.5">-1OO.O</text>
<text x="414.00" y="146.29" textLength="30.00" lengthAdjust="spacingAndGlyphs" font-size="12.5">-5O.O</text>
<text x="426.00" y="122.85" textLength="18.00" lengthAdjust="spacingAndGlyphs" font-size="12.5">O.O</text>
<text x="420.00" y="99.41" textLength="24.00" lengthAdjust="spacingAndGlyphs" font-size="12.5">5O.O</text>
<text x="414.00" y="75.97" textLength="30.00" lengthAdjust="spacingAndGlyphs" font-size="12.5">1OO.O</text>
<text x="414.00" y="52.54" textLength="30.00" lengthAdjust="spacingAndGlyphs" font-size="12.5">15O.O</text>
<text x="414.00" y="29.10" textLength="30.00" lengthAdjust="spacingAndGlyphs" font-size="12.5">2OO.O</text>
<rect x="547.5" y="26.5" width="269" height="189" fill="none" stroke="#000" stroke-width="1"/>
<path d="M547 215.5h7M817 215.5h-7"/>
<path d="M547 212.5h4M817 212.5h-4"/>
<path d="M547 209.5h4M817 209.5h-4"/>
<path d="M547 206.5h4M817 206.5h-4"/>
<path d="M547 202.5h4M817 202.5h-4"/>
<path d="M547 199.5h4M817 199.5h-4"/>
<path d="M547 196.5h4M817 196.5h-4"/>
<path d="M547 193.5h4M817 193.5h-4"/>
<path d="M547 190.5h4M817 190.5h-4"/>
<path d="M547 187.5h4M817 187.5h-4"/>
<path d="M547 184.5h7M817 184.5h-7"/>
<path d="M547 180.5h4M817 180.5h-4"/>
<path d="M547 177.5h4M817 177.5h-4"/>
<path d="M547 174.5h4M817 174.5h-4"/>
<path d="M547 171.5h4M817 171.5h-4"/>
<path d="M547 168.5h4M817 168.5h-4"/>
<path d="M547 165.5h4M817 165.5h-4"/>
<path d="M547 161.5h4M817 161.5h-4"/>
<path d="M547 158.5h4M817 158.5h-4"/>
<path d="M547 155.5h4M817 155.5h-4"/>
<path d="M547 152.5h7M817 152.5h-7"/>
<path d="M547 149.5h4M817 149.5h-4"/>
<path d="M547 146.5h4M817 146.5h-4"/>
<path d="M547 143.5h4M817 143.5h-4"/>
<path d="M547 139.5h4M817 139.5h-4"/>
<path d="M547 136.5h4M817 136.5h-4"/>
<path d="M547 133.5h4M817 133.5h-4"/>
<path d="M547 130.5h4M817 130.5h-4"/>
<path d="M547 127.5h4M817 127.5h-4"/>
<path d="M547 124.5h4M817 124.5h-4"/>
<path d="M547 120.5h7M817 120.5h-7"/>
<path d="M547 117.5h4M817 117.5h-4"/>
<path d="M547 114.5h4M817 114.5h-4"/>
<path d="M547 111.5h4M817 111.5h-4"/>
<path d="M547 108.5h4M817 108.5h-4"/>
<path d="M547 105.5h4M817 105.5h-4"/>
<path d="M547 102.5h4M817 102.5h-4"/>
<path d="M547 98.5h4M817 98.5h-4"/>
<path d="M547 95.5h4M817 95.5h-4"/>
<path d="M547 92.5h4M817 92.5h-4"/>
<path d="M547 89.5h7M817 89.5h-7"/>
<path d="M547 86.5h4M817 86.5h-4"/>
<path d="M547 83.5h4M817 83.5h-4"/>
<path d="M547 80.5h4M817 80.5h-4"/>
<path d="M547 76.5h4M817 76.5h-4"/>
<path d="M547 73.5h4M817 73.5h-4"/>
<path d="M547 70.5h4M817 70.5h-4"/>
<path d="M547 67.5h4M817 67.5h-4"/>
<path d="M547 64.5h4M817 64.5h-4"/>
<path d="M547 61.5h4M817 61.5h-4"/>
<path d="M547 58.5h7M817 58.5h-7"/>
<path d="M547 54.5h4M817 54.5h-4"/>
<path d="M547 51.5h4M817 51.5h-4"/>
<path d="M547 48.5h4M817 48.5h-4"/>
<path d="M547 45.5h4M817 45.5h-4"/>
<path d="M547 42.5h4M817 42.5h-4"/>
<path d="M547 39.5h4M817 39.5h-4"/>
<path d="M547 35.5h4M817 35.5h-4"/>
<path d="M547 32.5h4M817 32.5h-4"/>
<path d="M547 29.5h4M817 29.5h-4"/>
<path d="M547 26.5h7M817 26.5h-7"/>
<path d="M547.5 215v-5M547.5 27v5"/>
<path d="M614.5 215v-5M614.5 27v5"/>
<path d="M682.5 215v-5M682.5 27v5"/>
<path d="M749.5 215v-5M749.5 27v5"/>
<path d="M816.5 215v-5M816.5 27v5"/>
<text x="532.00" y="219.50" textLength="12.00" lengthAdjust="spacingAndGlyphs" font-size="12.5">6O</text>
<text x="532.00" y="188.00" textLength="12.00" lengthAdjust="spacingAndGlyphs" font-size="12.5">7O</text>
<text x="532.00" y="156.50" textLength="12.00" lengthAdjust="spacingAndGlyphs" font-size="12.5">8O</text>
<text x="532.00" y="125.00" textLength="12.00" lengthAdjust="spacingAndGlyphs" font-size="12.5">9O</text>
<text x="526.00" y="93.50" textLength="18.00" lengthAdjust="spacingAndGlyphs" font-size="12.5">1OO</text>
<text x="526.00" y="62.00" textLength="18.00" lengthAdjust="spacingAndGlyphs" font-size="12.5">11O</text>
<text x="526.00" y="32.50" textLength="18.00" lengthAdjust="spacingAndGlyphs" font-size="12.5">12O</text>
<text x="539.00" y="229.50" textLength="18.00" lengthAdjust="spacingAndGlyphs" font-size="12.5">-9O</text>
<text x="612.25" y="229.50" textLength="6.00" lengthAdjust="spacingAndGlyphs" font-size="12.5">O</text>
<text x="676.50" y="229.50" textLength="12.00" lengthAdjust="spacingAndGlyphs" font-size="12.5">9O</text>
<text x="746.75" y="229.50" textLength="6.00" lengthAdjust="spacingAndGlyphs" font-size="12.5">O</text>
<text x="808.00" y="229.50" textLength="18.00" lengthAdjust="spacingAndGlyphs" font-size="12.5">-9O</text>
<text x="653.55" y="242.00" textLength="54.90" lengthAdjust="spacingAndGlyphs" font-size="12.5">Lat (deg)</text>
<text x="589.00" y="19.80" textLength="186.00" lengthAdjust="spacingAndGlyphs" font-size="12.5">Inverted Winds Zonal (coldside)</text>
<text x="513.60" y="54.60" textLength="6.00" lengthAdjust="spacingAndGlyphs" font-size="12.5">A</text>
<text x="513.60" y="64.60" textLength="6.00" lengthAdjust="spacingAndGlyphs" font-size="12.5">l</text>
<text x="513.60" y="74.60" textLength="6.00" lengthAdjust="spacingAndGlyphs" font-size="12.5">t</text>
<text x="513.60" y="84.60" textLength="6.00" lengthAdjust="spacingAndGlyphs" font-size="12.5">i</text>
<text x="513.60" y="94.60" textLength="6.00" lengthAdjust="spacingAndGlyphs" font-size="12.5">t</text>
<text x="513.60" y="104.60" textLength="6.00" lengthAdjust="spacingAndGlyphs" font-size="12.5">u</text>
<text x="513.60" y="114.60" textLength="6.00" lengthAdjust="spacingAndGlyphs" font-size="12.5">d</text>
<text x="513.60" y="124.60" textLength="6.00" lengthAdjust="spacingAndGlyphs" font-size="12.5">e</text>
<text x="513.60" y="144.60" textLength="6.00" lengthAdjust="spacingAndGlyphs" font-size="12.5">(</text>
<text x="513.60" y="154.60" textLength="6.00" lengthAdjust="spacingAndGlyphs" font-size="12.5">k</text>
<text x="513.60" y="164.60" textLength="6.00" lengthAdjust="spacingAndGlyphs" font-size="12.5">m</text>
<text x="513.60" y="174.60" textLength="6.00" lengthAdjust="spacingAndGlyphs" font-size="12.5">)</text>
<rect x="846" y="205.62" width="27.5" height="9.68" fill="#280046" stroke="none"/>
<rect x="846" y="196.25" width="27.5" height="9.68" fill="#500096" stroke="none"/>
<rect x="846" y="186.88" width="27.5" height="9.68" fill="#0014C8" stroke="none"/>
<rect x="846" y="177.50" width="27.5" height="9.68" fill="#0040F0" stroke="none"/>
<rect x="846" y="168.12" width="27.5" height="9.68" fill="#0078FF" stroke="none"/>
<rect x="846" y="158.75" width="27.5" height="9.68" fill="#00B8F8" stroke="none"/>
<rect x="846" y="149.38" width="27.5" height="9.68" fill="#00D8D8" stroke="none"/>
<rect x="846" y="140.00" width="27.5" height="9.68" fill="#00F0A0" stroke="none"/>
<rect x="846" y="130.62" width="27.5" height="9.68" fill="#40E880" stroke="none"/>
<rect x="846" y="121.25" width="27.5" height="9.68" fill="#99F800" stroke="none"/>
<rect x="846" y="111.88" width="27.5" height="9.68" fill="#D0F800" stroke="none"/>
<rect x="846" y="102.50" width="27.5" height="9.68" fill="#FFFF00" stroke="none"/>
<rect x="846" y="93.12" width="27.5" height="9.68" fill="#FFD800" stroke="none"/>
<rect x="846" y="83.75" width="27.5" height="9.68" fill="#FFAA00" stroke="none"/>
<rect x="846" y="74.38" width="27.5" height="9.68" fill="#DD7730" stroke="none"/>
<rect x="846" y="65.00" width="27.5" height="9.68" fill="#C84850" stroke="none"/>
<rect x="846" y="55.62" width="27.5" height="9.68" fill="#E0205A" stroke="none"/>
<rect x="846" y="46.25" width="27.5" height="9.68" fill="#FF0066" stroke="none"/>
<rect x="846" y="36.88" width="27.5" height="9.68" fill="#FF33BB" stroke="none"/>
<rect x="846" y="27.50" width="27.5" height="9.68" fill="#FF55FF" stroke="none"/>
<rect x="845.5" y="27.5" width="28" height="188" fill="none" stroke="#000"/>
<path d="M873 191.5h-6"/>
<path d="M873 168.5h-6"/>
<path d="M873 144.5h-6"/>
<path d="M873 121.5h-6"/>
<path d="M873 97.5h-6"/>
<path d="M873 74.5h-6"/>
<path d="M873 50.5h-6"/>
<text x="879.00" y="216.60" textLength="36.00" lengthAdjust="spacingAndGlyphs" font-size="12.5">-2OO.O</text>
<text x="879.00" y="193.16" textLength="36.00" lengthAdjust="spacingAndGlyphs" font-size="12.5">-15O.O</text>
<text x="879.00" y="169.72" textLength="36.00" lengthAdjust="spacingAndGlyphs" font-size="12.5">-1OO.O</text>
<text x="885.00" y="146.29" textLength="30.00" lengthAdjust="spacingAndGlyphs" font-size="12.5">-5O.O</text>
<text x="897.00" y="122.85" textLength="18.00" lengthAdjust="spacingAndGlyphs" font-size="12.5">O.O</text>
<text x="891.00" y="99.41" textLength="24.00" lengthAdjust="spacingAndGlyphs" font-size="12.5">5O.O</text>
<text x="885.00" y="75.97" textLength="30.00" lengthAdjust="spacingAndGlyphs" font-size="12.5">1OO.O</text>
<text x="885.00" y="52.54" textLength="30.00" lengthAdjust="spacingAndGlyphs" font-size="12.5">15O.O</text>
<text x="885.00" y="29.10" textLength="30.00" lengthAdjust="spacingAndGlyphs" font-size="12.5">2OO.O</text>
<rect x="67.5" y="296.5" width="269" height="189" fill="none" stroke="#000" stroke-width="1"/>
<path d="M67 485.5h7M337 485.5h-7"/>
<path d="M67 482.5h4M337 482.5h-4"/>
<path d="M67 479.5h4M337 479.5h-4"/>
<path d="M67 476.5h4M337 476.5h-4"/>
<path d="M67 472.5h4M337 472.5h-4"/>
<path d="M67 469.5h4M337 469.5h-4"/>
<path d="M67 466.5h4M337 466.5h-4"/>
<path d="M67 463.5h4M337 463.5h-4"/>
<path d="M67 460.5h4M337 460.5h-4"/>
<path d="M67 457.5h4M337 457.5h-4"/>
<path d="M67 454.5h7M337 454.5h-7"/>
<path d="M67 450.5h4M337 450.5h-4"/>
<path d="M67 447.5h4M337 447.5h-4"/>
<path d="M67 444.5h4M337 444.5h-4"/>
<path d="M67 441.5h4M337 441.5h-4"/>
<path d="M67 438.5h4M337 438.5h-4"/>
<path d="M67 435.5h4M337 435.5h-4"/>
<path d="M67 431.5h4M337 431.5h-4"/>
<path d="M67 428.5h4M337 428.5h-4"/>
<path d="M67 425.5h4M337 425.5h-4"/>
<path d="M67 422.5h7M337 422.5h-7"/>
<path d="M67 419.5h4M337 419.5h-4"/>
<path d="M67 416.5h4M337 416.5h-4"/>
<path d="M67 413.5h4M337 413.5h-4"/>
<path d="M67 409.5h4M337 409.5h-4"/>
<path d="M67 406.5h4M337 406.5h-4"/>
<path d="M67 403.5h4M337 403.5h-4"/>
<path d="M67 400.5h4M337 400.5h-4"/>
<path d="M67 397.5h4M337 397.5h-4"/>
<path d="M67 394.5h4M337 394.5h-4"/>
<path d="M67 390.5h7M337 390.5h-7"/>
<path d="M67 387.5h4M337 387.5h-4"/>
<path d="M67 384.5h4M337 384.5h-4"/>
<path d="M67 381.5h4M337 381.5h-4"/>
<path d="M67 378.5h4M337 378.5h-4"/>
<path d="M67 375.5h4M337 375.5h-4"/>
<path d="M67 372.5h4M337 372.5h-4"/>
<path d="M67 368.5h4M337 368.5h-4"/>
<path d="M67 365.5h4M337 365.5h-4"/>
<path d="M67 362.5h4M337 362.5h-4"/>
<path d="M67 359.5h7M337 359.5h-7"/>
<path d="M67 356.5h4M337 356.5h-4"/>
<path d="M67 353.5h4M337 353.5h-4"/>
<path d="M67 350.5h4M337 350.5h-4"/>
<path d="M67 346.5h4M337 346.5h-4"/>
<path d="M67 343.5h4M337 343.5h-4"/>
<path d="M67 340.5h4M337 340.5h-4"/>
<path d="M67 337.5h4M337 337.5h-4"/>
<path d="M67 334.5h4M337 334.5h-4"/>
<path d="M67 331.5h4M337 331.5h-4"/>
<path d="M67 328.5h7M337 328.5h-7"/>
<path d="M67 324.5h4M337 324.5h-4"/>
<path d="M67 321.5h4M337 321.5h-4"/>
<path d="M67 318.5h4M337 318.5h-4"/>
<path d="M67 315.5h4M337 315.5h-4"/>
<path d="M67 312.5h4M337 312.5h-4"/>
<path d="M67 309.5h4M337 309.5h-4"/>
<path d="M67 305.5h4M337 305.5h-4"/>
<path d="M67 302.5h4M337 302.5h-4"/>
<path d="M67 299.5h4M337 299.5h-4"/>
<path d="M67 296.5h7M337 296.5h-7"/>
<path d="M67.5 485v-5M67.5 297v5"/>
<path d="M134.5 485v-5M134.5 297v5"/>
<path d="M202.5 485v-5M202.5 297v5"/>
<path d="M269.5 485v-5M269.5 297v5"/>
<path d="M336.5 485v-5M336.5 297v5"/>
<text x="52.00" y="489.50" textLength="12.00" lengthAdjust="spacingAndGlyphs" font-size="12.5">6O</text>
<text x="52.00" y="458.00" textLength="12.00" lengthAdjust="spacingAndGlyphs" font-size="12.5">7O</text>
<text x="52.00" y="426.50" textLength="12.00" lengthAdjust="spacingAndGlyphs" font-size="12.5">8O</text>
<text x="52.00" y="395.00" textLength="12.00" lengthAdjust="spacingAndGlyphs" font-size="12.5">9O</text>
<text x="46.00" y="363.50" textLength="18.00" lengthAdjust="spacingAndGlyphs" font-size="12.5">1OO</text>
<text x="46.00" y="332.00" textLength="18.00" lengthAdjust="spacingAndGlyphs" font-size="12.5">11O</text>
<text x="46.00" y="302.50" textLength="18.00" lengthAdjust="spacingAndGlyphs" font-size="12.5">12O</text>
<text x="59.00" y="499.50" textLength="18.00" lengthAdjust="spacingAndGlyphs" font-size="12.5">-9O</text>
<text x="132.25" y="499.50" textLength="6.00" lengthAdjust="spacingAndGlyphs" font-size="12.5">O</text>
<text x="196.50" y="499.50" textLength="12.00" lengthAdjust="spacingAndGlyphs" font-size="12.5">9O</text>
<text x="266.75" y="499.50" textLength="6.00" lengthAdjust="spacingAndGlyphs" font-size="12.5">O</text>
<text x="328.00" y="499.50" textLength="18.00" lengthAdjust="spacingAndGlyphs" font-size="12.5">-9O</text>
<text x="173.55" y="512.00" textLength="54.90" lengthAdjust="spacingAndGlyphs" font-size="12.5">Lat (deg)</text>
<text x="94.00" y="289.80" textLength="216.00" lengthAdjust="spacingAndGlyphs" font-size="12.5">Inverted Winds Meridional (warmside)</text>
<text x="33.60" y="324.60" textLength="6.00" lengthAdjust="spacingAndGlyphs" font-size="12.5">A</text>
<text x="33.60" y="334.60" textLength="6.00" lengthAdjust="spacingAndGlyphs" font-size="12.5">l</text>
<text x="33.60" y="344.60" textLength="6.00" lengthAdjust="spacingAndGlyphs" font-size="12.5">t</text>
<text x="33.60" y="354.60" textLength="6.00" lengthAdjust="spacingAndGlyphs" font-size="12.5">i</text>
<text x="33.60" y="364.60" textLength="6.00" lengthAdjust="spacingAndGlyphs" font-size="12.5">t</text>
<text x="33.60" y="374.60" textLength="6.00" lengthAdjust="spacingAndGlyphs" font-size="12.5">u</text>
<text x="33.60" y="384.60" textLength="6.00" lengthAdjust="spacingAndGlyphs" font-size="12.5">d</text>
<text x="33.60" y="394.60" textLength="6.00" lengthAdjust="spacingAndGlyphs" font-size="12.5">e</text>
<text x="33.60" y="414.60" textLength="6.00" lengthAdjust="spacingAndGlyphs" font-size="12.5">(</text>
<text x="33.60" y="424.60" textLength="6.00" lengthAdjust="spacingAndGlyphs" font-size="12.5">k</text>
<text x="33.60" y="434.60" textLength="6.00" lengthAdjust="spacingAndGlyphs" font-size="12.5">m</text>
<text x="33.60" y="444.60" textLength="6.00" lengthAdjust="spacingAndGlyphs" font-size="12.5">)</text>
<rect x="375" y="475.62" width="27.5" height="9.68" fill="#280046" stroke="none"/>
<rect x="375" y="466.25" width="27.5" height="9.68" fill="#500096" stroke="none"/>
<rect x="375" y="456.88" width="27.5" height="9.68" fill="#0014C8" stroke="none"/>
<rect x="375" y="447.50" width="27.5" height="9.68" fill="#0040F0" stroke="none"/>
<rect x="375" y="438.12" width="27.5" height="9.68" fill="#0078FF" stroke="none"/>
<rect x="375" y="428.75" width="27.5" height="9.68" fill="#00B8F8" stroke="none"/>
<rect x="375" y="419.38" width="27.5" height="9.68" fill="#00D8D8" stroke="none"/>
<rect x="375" y="410.00" width="27.5" height="9.68" fill="#00F0A0" stroke="none"/>
<rect x="375" y="400.62" width="27.5" height="9.68" fill="#40E880" stroke="none"/>
<rect x="375" y="391.25" width="27.5" height="9.68" fill="#99F800" stroke="none"/>
<rect x="375" y="381.88" width="27.5" height="9.68" fill="#D0F800" stroke="none"/>
<rect x="375" y="372.50" width="27.5" height="9.68" fill="#FFFF00" stroke="none"/>
<rect x="375" y="363.12" width="27.5" height="9.68" fill="#FFD800" stroke="none"/>
<rect x="375" y="353.75" width="27.5" height="9.68" fill="#FFAA00" stroke="none"/>
<rect x="375" y="344.38" width="27.5" height="9.68" fill="#DD7730" stroke="none"/>
<rect x="375" y="335.00" width="27.5" height="9.68" fill="#C84850" stroke="none"/>
<rect x="375" y="325.62" width="27.5" height="9.68" fill="#E0205A" stroke="none"/>
<rect x="375" y="316.25" width="27.5" height="9.68" fill="#FF0066" stroke="none"/>
<rect x="375" y="306.88" width="27.5" height="9.68" fill="#FF33BB" stroke="none"/>
<rect x="375" y="297.50" width="27.5" height="9.68" fill="#FF55FF" stroke="none"/>
<rect x="374.5" y="297.5" width="28" height="188" fill="none" stroke="#000"/>
<path d="M402 461.5h-6"/>
<path d="M402 438.5h-6"/>
<path d="M402 414.5h-6"/>
<path d="M402 391.5h-6"/>
<path d="M402 367.5h-6"/>
<path d="M402 344.5h-6"/>
<path d="M402 320.5h-6"/>
<text x="408.00" y="486.60" textLength="36.00" lengthAdjust="spacingAndGlyphs" font-size="12.5">-2OO.O</text>
<text x="408.00" y="463.16" textLength="36.00" lengthAdjust="spacingAndGlyphs" font-size="12.5">-15O.O</text>
<text x="408.00" y="439.73" textLength="36.00" lengthAdjust="spacingAndGlyphs" font-size="12.5">-1OO.O</text>
<text x="414.00" y="416.29" textLength="30.00" lengthAdjust="spacingAndGlyphs" font-size="12.5">-5O.O</text>
<text x="426.00" y="392.85" textLength="18.00" lengthAdjust="spacingAndGlyphs" font-size="12.5">O.O</text>
<text x="420.00" y="369.41" textLength="24.00" lengthAdjust="spacingAndGlyphs" font-size="12.5">5O.O</text>
<text x="414.00" y="345.98" textLength="30.00" lengthAdjust="spacingAndGlyphs" font-size="12.5">1OO.O</text>
<text x="414.00" y="322.54" textLength="30.00" lengthAdjust="spacingAndGlyphs" font-size="12.5">15O.O</text>
<text x="414.00" y="299.10" textLength="30.00" lengthAdjust="spacingAndGlyphs" font-size="12.5">2OO.O</text>
<rect x="547.5" y="296.5" width="269" height="189" fill="none" stroke="#000" stroke-width="1"/>
<path d="M547 485.5h7M817 485.5h-7"/>
<path d="M547 482.5h4M817 482.5h-4"/>
<path d="M547 479.5h4M817 479.5h-4"/>
<path d="M547 476.5h4M817 476.5h-4"/>
<path d="M547 472.5h4M817 472.5h-4"/>
<path d="M547 469.5h4M817 469.5h-4"/>
<path d="M547 466.5h4M817 466.5h-4"/>
<path d="M547 463.5h4M817 463.5h-4"/>
<path d="M547 460.5h4M817 460.5h-4"/>
<path d="M547 457.5h4M817 457.5h-4"/>
<path d="M547 454.5h7M817 454.5h-7"/>
<path d="M547 450.5h4M817 450.5h-4"/>
<path d="M547 447.5h4M817 447.5h-4"/>
<path d="M547 444.5h4M817 444.5h-4"/>
<path d="M547 441.5h4M817 441.5h-4"/>
<path d="M547 438.5h4M817 438.5h-4"/>
<path d="M547 435.5h4M817 435.5h-4"/>
<path d="M547 431.5h4M817 431.5h-4"/>
<path d="M547 428.5h4M817 428.5h-4"/>
<path d="M547 425.5h4M817 425.5h-4"/>
<path d="M547 422.5h7M817 422.5h-7"/>
<path d="M547 419.5h4M817 419.5h-4"/>
<path d="M547 416.5h4M817 416.5h-4"/>
<path d="M547 413.5h4M817 413.5h-4"/>
<path d="M547 409.5h4M817 409.5h-4"/>
<path d="M547 406.5h4M817 406.5h-4"/>
<path d="M547 403.5h4M817 403.5h-4"/>
<path d="M547 400.5h4M817 400.5h-4"/>
<path d="M547 397.5h4M817 397.5h-4"/>
<path d="M547 394.5h4M817 394.5h-4"/>
<path d="M547 390.5h7M817 390.5h-7"/>
<path d="M547 387.5h4M817 387.5h-4"/>
<path d="M547 384.5h4M817 384.5h-4"/>
<path d="M547 381.5h4M817 381.5h-4"/>
<path d="M547 378.5h4M817 378.5h-4"/>
<path d="M547 375.5h4M817 375.5h-4"/>
<path d="M547 372.5h4M817 372.5h-4"/>
<path d="M547 368.5h4M817 368.5h-4"/>
<path d="M547 365.5h4M817 365.5h-4"/>
<path d="M547 362.5h4M817 362.5h-4"/>
<path d="M547 359.5h7M817 359.5h-7"/>
<path d="M547 356.5h4M817 356.5h-4"/>
<path d="M547 353.5h4M817 353.5h-4"/>
<path d="M547 350.5h4M817 350.5h-4"/>
<path d="M547 346.5h4M817 346.5h-4"/>
<path d="M547 343.5h4M817 343.5h-4"/>
<path d="M547 340.5h4M817 340.5h-4"/>
<path d="M547 337.5h4M817 337.5h-4"/>
<path d="M547 334.5h4M817 334.5h-4"/>
<path d="M547 331.5h4M817 331.5h-4"/>
<path d="M547 328.5h7M817 328.5h-7"/>
<path d="M547 324.5h4M817 324.5h-4"/>
<path d="M547 321.5h4M817 321.5h-4"/>
<path d="M547 318.5h4M817 318.5h-4"/>
<path d="M547 315.5h4M817 315.5h-4"/>
<path d="M547 312.5h4M817 312.5h-4"/>
<path d="M547 309.5h4M817 309.5h-4"/>
<path d="M547 305.5h4M817 305.5h-4"/>
<path d="M547 302.5h4M817 302.5h-4"/>
<path d="M547 299.5h4M817 299.5h-4"/>
<path d="M547 296.5h7M817 296.5h-7"/>
<path d="M547.5 485v-5M547.5 297v5"/>
<path d="M614.5 485v-5M614.5 297v5"/>
<path d="M682.5 485v-5M682.5 297v5"/>
<path d="M749.5 485v-5M749.5 297v5"/>
<path d="M816.5 485v-5M816.5 297v5"/>
<text x="532.00" y="489.50" textLength="12.00" lengthAdjust="spacingAndGlyphs" font-size="12.5">6O</text>
<text x="532.00" y="458.00" textLength="12.00" lengthAdjust="spacingAndGlyphs" font-size="12.5">7O</text>
<text x="532.00" y="426.50" textLength="12.00" lengthAdjust="spacingAndGlyphs" font-size="12.5">8O</text>
<text x="532.00" y="395.00" textLength="12.00" lengthAdjust="spacingAndGlyphs" font-size="12.5">9O</text>
<text x="526.00" y="363.50" textLength="18.00" lengthAdjust="spacingAndGlyphs" font-size="12.5">1OO</text>
<text x="526.00" y="332.00" textLength="18.00" lengthAdjust="spacingAndGlyphs" font-size="12.5">11O</text>
<text x="526.00" y="302.50" textLength="18.00" lengthAdjust="spacingAndGlyphs" font-size="12.5">12O</text>
<text x="539.00" y="499.50" textLength="18.00" lengthAdjust="spacingAndGlyphs" font-size="12.5">-9O</text>
<text x="612.25" y="499.50" textLength="6.00" lengthAdjust="spacingAndGlyphs" font-size="12.5">O</text>
<text x="676.50" y="499.50" textLength="12.00" lengthAdjust="spacingAndGlyphs" font-size="12.5">9O</text>
<text x="746.75" y="499.50" textLength="6.00" lengthAdjust="spacingAndGlyphs" font-size="12.5">O</text>
<text x="808.00" y="499.50" textLength="18.00" lengthAdjust="spacingAndGlyphs" font-size="12.5">-9O</text>
<text x="653.55" y="512.00" textLength="54.90" lengthAdjust="spacingAndGlyphs" font-size="12.5">Lat (deg)</text>
<text x="589.00" y="289.80" textLength="186.00" lengthAdjust="spacingAndGlyphs" font-size="12.5">Inverted Winds Zonal (warmside)</text>
<text x="513.60" y="324.60" textLength="6.00" lengthAdjust="spacingAndGlyphs" font-size="12.5">A</text>
<text x="513.60" y="334.60" textLength="6.00" lengthAdjust="spacingAndGlyphs" font-size="12.5">l</text>
<text x="513.60" y="344.60" textLength="6.00" lengthAdjust="spacingAndGlyphs" font-size="12.5">t</text>
<text x="513.60" y="354.60" textLength="6.00" lengthAdjust="spacingAndGlyphs" font-size="12.5">i</text>
<text x="513.60" y="364.60" textLength="6.00" lengthAdjust="spacingAndGlyphs" font-size="12.5">t</text>
<text x="513.60" y="374.60" textLength="6.00" lengthAdjust="spacingAndGlyphs" font-size="12.5">u</text>
<text x="513.60" y="384.60" textLength="6.00" lengthAdjust="spacingAndGlyphs" font-size="12.5">d</text>
<text x="513.60" y="394.60" textLength="6.00" lengthAdjust="spacingAndGlyphs" font-size="12.5">e</text>
<text x="513.60" y="414.60" textLength="6.00" lengthAdjust="spacingAndGlyphs" font-size="12.5">(</text>
<text x="513.60" y="424.60" textLength="6.00" lengthAdjust="spacingAndGlyphs" font-size="12.5">k</text>
<text x="513.60" y="434.60" textLength="6.00" lengthAdjust="spacingAndGlyphs" font-size="12.5">m</text>
<text x="513.60" y="444.60" textLength="6.00" lengthAdjust="spacingAndGlyphs" font-size="12.5">)</text>
<rect x="846" y="475.62" width="27.5" height="9.68" fill="#280046" stroke="none"/>
<rect x="846" y="466.25" width="27.5" height="9.68" fill="#500096" stroke="none"/>
<rect x="846" y="456.88" width="27.5" height="9.68" fill="#0014C8" stroke="none"/>
<rect x="846" y="447.50" width="27.5" height="9.68" fill="#0040F0" stroke="none"/>
<rect x="846" y="438.12" width="27.5" height="9.68" fill="#0078FF" stroke="none"/>
<rect x="846" y="428.75" width="27.5" height="9.68" fill="#00B8F8" stroke="none"/>
<rect x="846" y="419.38" width="27.5" height="9.68" fill="#00D8D8" stroke="none"/>
<rect x="846" y="410.00" width="27.5" height="9.68" fill="#00F0A0" stroke="none"/>
<rect x="846" y="400.62" width="27.5" height="9.68" fill="#40E880" stroke="none"/>
<rect x="846" y="391.25" width="27.5" height="9.68" fill="#99F800" stroke="none"/>
<rect x="846" y="381.88" width="27.5" height="9.68" fill="#D0F800" stroke="none"/>
<rect x="846" y="372.50" width="27.5" height="9.68" fill="#FFFF00" stroke="none"/>
<rect x="846" y="363.12" width="27.5" height="9.68" fill="#FFD800" stroke="none"/>
<rect x="846" y="353.75" width="27.5" height="9.68" fill="#FFAA00" stroke="none"/>
<rect x="846" y="344.38" width="27.5" height="9.68" fill="#DD7730" stroke="none"/>
<rect x="846" y="335.00" width="27.5" height="9.68" fill="#C84850" stroke="none"/>
<rect x="846" y="325.62" width="27.5" height="9.68" fill="#E0205A" stroke="none"/>
<rect x="846" y="316.25" width="27.5" height="9.68" fill="#FF0066" stroke="none"/>
<rect x="846" y="306.88" width="27.5" height="9.68" fill="#FF33BB" stroke="none"/>
<rect x="846" y="297.50" width="27.5" height="9.68" fill="#FF55FF" stroke="none"/>
<rect x="845.5" y="297.5" width="28" height="188" fill="none" stroke="#000"/>
<path d="M873 461.5h-6"/>
<path d="M873 438.5h-6"/>
<path d="M873 414.5h-6"/>
<path d="M873 391.5h-6"/>
<path d="M873 367.5h-6"/>
<path d="M873 344.5h-6"/>
<path d="M873 320.5h-6"/>
<text x="879.00" y="486.60" textLength="36.00" lengthAdjust="spacingAndGlyphs" font-size="12.5">-2OO.O</text>
<text x="879.00" y="463.16" textLength="36.00" lengthAdjust="spacingAndGlyphs" font-size="12.5">-15O.O</text>
<text x="879.00" y="439.73" textLength="36.00" lengthAdjust="spacingAndGlyphs" font-size="12.5">-1OO.O</text>
<text x="885.00" y="416.29" textLength="30.00" lengthAdjust="spacingAndGlyphs" font-size="12.5">-5O.O</text>
<text x="897.00" y="392.85" textLength="18.00" lengthAdjust="spacingAndGlyphs" font-size="12.5">O.O</text>
<text x="891.00" y="369.41" textLength="24.00" lengthAdjust="spacingAndGlyphs" font-size="12.5">5O.O</text>
<text x="885.00" y="345.98" textLength="30.00" lengthAdjust="spacingAndGlyphs" font-size="12.5">1OO.O</text>
<text x="885.00" y="322.54" textLength="30.00" lengthAdjust="spacingAndGlyphs" font-size="12.5">15O.O</text>
<text x="885.00" y="299.10" textLength="30.00" lengthAdjust="spacingAndGlyphs" font-size="12.5">2OO.O</text>
</g>
<text x="576.50" y="524.50" textLength="210.00" lengthAdjust="spacingAndGlyphs" font-size="12.5">2O11O26vO1 Wed Aug 1O O9:16:33 2O16</text>
</svg></body></html>
